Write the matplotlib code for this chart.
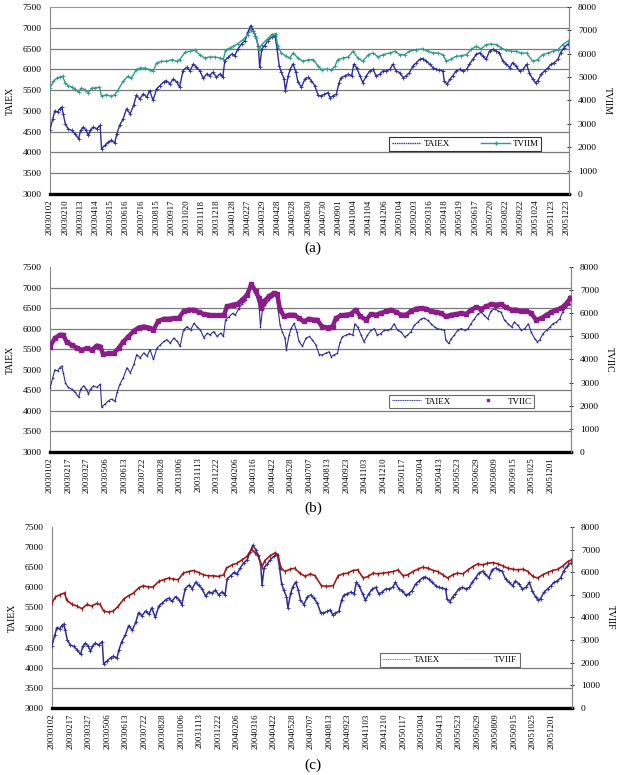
import matplotlib
matplotlib.use("Agg")
import matplotlib.pyplot as plt
from matplotlib.lines import Line2D
import numpy as np

plt.rcParams['font.family'] = ['Liberation Serif', 'DejaVu Serif']

# -------- data (x = trading day since 2003/01/02) --------

taiex_day = [0, 4, 7, 11, 14, 17, 19, 22, 26, 31, 36, 41, 44, 48, 52, 55, 58, 62, 67, 72,
             74, 79, 84, 88, 93, 96, 100, 105, 110, 115, 120, 124, 129, 134, 139, 143, 148, 153, 158, 163,
             167, 172, 177, 182, 186, 191, 196, 201, 206, 210, 215, 220, 225, 229, 234, 239, 244, 248, 251, 256,
             261, 265, 270, 275, 280, 284, 288, 292, 295, 299, 301, 304, 308, 313, 318, 323, 326, 329, 332, 336,
             338, 342, 345, 349, 353, 356, 361, 366, 371, 375, 380, 385, 389, 394, 399, 402, 406, 411, 415, 418,
             423, 428, 433, 436, 440, 445, 449, 454, 459, 464, 468, 473, 478, 483, 488, 492, 497, 502, 507, 511,
             516, 521, 526, 531, 535, 540, 545, 550, 554, 559, 564, 566, 570, 574, 578, 583, 588, 593, 598, 602,
             607, 612, 617, 621, 626, 631, 636, 640, 645, 650, 655, 660, 664, 669, 674, 679, 684, 688, 693, 697,
             700, 705, 710, 715, 719, 724, 729, 733, 738, 743]
taiex = [4550, 4810, 5000, 4970, 5050, 5090, 4930, 4690, 4570, 4530, 4450, 4330, 4530, 4610, 4530, 4410, 4530, 4610, 4570, 4650,
         4090, 4170, 4250, 4290, 4230, 4450, 4650, 4810, 5050, 4930, 5130, 5370, 5290, 5410, 5330, 5490, 5250, 5530, 5610, 5690,
         5730, 5650, 5770, 5690, 5570, 5970, 6050, 5970, 6130, 6050, 5970, 5780, 5890, 5850, 5930, 5810, 5890, 5810, 6210, 6290,
         6370, 6330, 6490, 6610, 6690, 6890, 7050, 6930, 6810, 6570, 6050, 6490, 6570, 6690, 6770, 6810, 6490, 6090, 5930, 5770,
         5490, 5850, 6010, 6130, 5930, 5690, 5570, 5770, 5810, 5730, 5610, 5370, 5360, 5400, 5440, 5320, 5360, 5400, 5680, 5800,
         5840, 5880, 5840, 6120, 6040, 5840, 5680, 5840, 5960, 6000, 5840, 5880, 5960, 5960, 6000, 6120, 5960, 5920, 5800, 5840,
         5920, 6080, 6160, 6240, 6260, 6200, 6120, 6040, 6000, 5980, 5960, 5720, 5640, 5760, 5840, 5960, 6000, 5960, 6000, 6120,
         6240, 6360, 6400, 6320, 6240, 6440, 6480, 6440, 6400, 6200, 6120, 6040, 6160, 6080, 5960, 6000, 6120, 5920, 5760, 5680,
         5720, 5880, 5960, 6040, 6120, 6160, 6240, 6400, 6520, 6600]

tviim_day = [0, 5, 10, 14, 18, 22, 26, 31, 36, 41, 45, 50, 55, 60, 65, 71, 74, 81, 88, 93,
             98, 105, 112, 117, 124, 129, 136, 143, 148, 153, 160, 167, 175, 182, 186, 194, 201, 208, 215, 222,
             229, 237, 244, 249, 252, 258, 263, 270, 277, 284, 288, 293, 296, 300, 304, 311, 318, 324, 327, 332,
             339, 344, 349, 356, 363, 371, 378, 385, 390, 397, 404, 409, 413, 421, 428, 435, 442, 449, 457, 464,
             471, 478, 488, 495, 502, 509, 516, 526, 535, 543, 550, 557, 564, 569, 576, 583, 590, 598, 605, 612,
             619, 626, 633, 641, 648, 655, 662, 669, 676, 684, 693, 700, 707, 715, 722, 729, 736, 743]
tviim = [4535, 4820, 4962, 5005, 5034, 4749, 4635, 4577, 4492, 4349, 4535, 4463, 4321, 4535, 4535, 4577, 4178, 4249, 4178, 4249,
         4463, 4820, 5034, 4962, 5319, 5390, 5390, 5319, 5248, 5604, 5675, 5675, 5747, 5675, 5747, 6061, 6103, 6146, 5961, 5818,
         5861, 5861, 5818, 5775, 6146, 6246, 6317, 6431, 6602, 6816, 7030, 6888, 6674, 6175, 6389, 6602, 6816, 6859, 6317, 6032,
         5889, 5818, 6032, 5818, 5675, 5747, 5747, 5462, 5319, 5348, 5319, 5462, 5747, 5818, 5861, 6103, 5818, 5675, 5961, 6032,
         5861, 5961, 6032, 6103, 5961, 5961, 6103, 6175, 6203, 6103, 6032, 6032, 5961, 5675, 5775, 5889, 5918, 5961, 6203, 6317,
         6203, 6389, 6417, 6389, 6246, 6146, 6103, 6103, 6032, 6032, 5675, 5747, 5961, 6032, 6103, 6175, 6389, 6531]

tviic_day = [0, 7, 14, 19, 24, 31, 38, 45, 53, 60, 67, 72, 76, 84, 91, 98, 105, 112, 120, 127,
             134, 141, 148, 155, 163, 170, 177, 184, 191, 198, 206, 213, 220, 227, 234, 241, 249, 253, 261, 268,
             275, 282, 288, 294, 299, 302, 306, 313, 320, 325, 329, 335, 342, 349, 356, 363, 370, 378, 382, 389,
             397, 404, 409, 416, 423, 430, 437, 444, 452, 459, 466, 473, 480, 487, 495, 502, 509, 516, 523, 531,
             538, 545, 552, 559, 566, 574, 581, 588, 595, 602, 609, 617, 624, 631, 638, 645, 652, 660, 667, 674,
             681, 688, 695, 703, 710, 717, 724, 731, 739, 744]
tviic = [4558, 4920, 5065, 5065, 4746, 4630, 4515, 4413, 4486, 4413, 4601, 4558, 4225, 4269, 4269, 4486, 4775, 4992, 5238, 5383,
         5426, 5383, 5282, 5672, 5759, 5759, 5788, 5788, 6077, 6150, 6150, 6048, 5962, 5933, 5904, 5904, 5933, 6294, 6367, 6396,
         6584, 6801, 7264, 6946, 6656, 6222, 6512, 6729, 6873, 6830, 6150, 5860, 5933, 5933, 5788, 5643, 5759, 5715, 5715, 5426,
         5383, 5426, 5788, 5904, 5933, 5962, 6150, 5860, 5715, 5962, 5933, 6005, 6077, 6150, 6048, 5933, 5933, 6077, 6193, 6222,
         6193, 6077, 6048, 6005, 5860, 5933, 5962, 6005, 5962, 6150, 6251, 6193, 6294, 6396, 6367, 6396, 6251, 6150, 6150, 6077,
         6106, 6005, 5715, 5788, 5933, 6048, 6150, 6222, 6439, 6656]

tviif_day = [0, 5, 12, 18, 21, 29, 36, 43, 50, 57, 64, 69, 74, 81, 88, 95, 103, 110, 117, 124,
             131, 138, 145, 153, 160, 167, 174, 181, 188, 196, 203, 210, 217, 224, 231, 239, 246, 250, 258, 265,
             272, 279, 286, 291, 296, 301, 305, 312, 320, 324, 328, 334, 341, 348, 355, 363, 370, 377, 386, 393,
             403, 410, 417, 424, 431, 438, 446, 453, 460, 467, 474, 481, 489, 496, 503, 510, 517, 524, 531, 539,
             546, 553, 560, 567, 574, 581, 589, 596, 603, 610, 617, 624, 632, 639, 646, 653, 660, 667, 675, 682,
             689, 696, 703, 710, 717, 725, 732, 739, 744]
tviif = [4648, 4910, 5012, 5085, 4764, 4575, 4502, 4386, 4575, 4502, 4619, 4575, 4284, 4240, 4284, 4502, 4823, 4968, 5085, 5303,
         5405, 5347, 5347, 5595, 5668, 5741, 5697, 5668, 5959, 6032, 6076, 5988, 5886, 5843, 5843, 5813, 5886, 6178, 6323, 6396,
         6542, 6688, 7008, 6862, 6688, 6251, 6513, 6717, 6862, 6760, 6178, 6032, 6134, 6178, 5959, 5813, 5930, 5843, 5405, 5376,
         5405, 5843, 5930, 5959, 6076, 6105, 5741, 5813, 5959, 5930, 5959, 5988, 6032, 6105, 5843, 5886, 6032, 6134, 6221, 6178,
         6076, 6032, 5886, 5741, 5886, 5959, 5930, 6105, 6251, 6367, 6323, 6396, 6425, 6367, 6280, 6178, 6134, 6105, 6134, 6032,
         5813, 5741, 5886, 5988, 6076, 6134, 6280, 6469, 6542]

ticks_a = ["20030102", "20030210", "20030313", "20030414", "20030515", "20030616", "20030716",
           "20030815", "20030917", "20031020", "20031118", "20031218", "20040128", "20040227",
           "20040329", "20040428", "20040528", "20040630", "20040730", "20040901", "20041004",
           "20041104", "20041206", "20050104", "20050203", "20050316", "20050418", "20050519",
           "20050617", "20050720", "20050822", "20050922", "20051024", "20051123", "20051223"]
ticks_bc = ["20030102", "20030217", "20030327", "20030506", "20030613", "20030722", "20030828",
            "20031006", "20031113", "20031222", "20040206", "20040316", "20040422", "20040528",
            "20040707", "20040813", "20040923", "20041103", "20041210", "20050117", "20050304",
            "20050413", "20050523", "20050629", "20050809", "20050915", "20051025", "20051201"]

NAVY = "#2e2e96"
GRID = "#7a7a7a"


def setup_panel(rect, ticks, tick_step, grid_levels, top_line, tvii_name):
    ax = fig.add_axes(rect)
    ax.set_xlim(0, 745)
    ax.set_ylim(3000, 7500)
    ax.set_yticks(np.arange(3000, 7501, 500))
    ax.set_xticks(np.arange(len(ticks)) * tick_step)
    ax.set_xticklabels(ticks, rotation=90, fontsize=6.3)
    ax.tick_params(axis='x', length=0, pad=4)
    ax.tick_params(axis='y', length=0, pad=6, labelsize=6.8)
    for g in grid_levels:
        ax.axhline(g, color=GRID, lw=0.9, zorder=0)
    ax.spines['left'].set_color("#888888")
    ax.spines['right'].set_color("#888888")
    ax.spines['bottom'].set_linewidth(2.4)
    ax.spines['bottom'].set_color("black")
    if top_line:
        ax.spines['top'].set_color("#999999")
        ax.spines['top'].set_linewidth(0.8)
    else:
        ax.spines['top'].set_visible(False)
    ax.set_ylabel("TAIEX", fontsize=7)
    ax.yaxis.set_label_coords(-0.068, 0.5)

    ax2 = ax.twinx()
    ax2.set_ylim(0, 8000)
    ax2.set_yticks(np.arange(0, 8001, 1000))
    ax2.tick_params(axis='y', length=3, direction='inout', width=0.6, pad=5, labelsize=6.8)
    ax2.spines['right'].set_color("#888888")
    ax2.spines['left'].set_visible(False)
    ax2.spines['bottom'].set_visible(False)
    ax2.spines['top'].set_visible(False)
    ax2.set_ylabel(tvii_name, fontsize=7, rotation=270)
    ax2.yaxis.set_label_coords(1.082, 0.5)
    return ax, ax2


fig = plt.figure(figsize=(6.27, 7.75), dpi=100)
full_grid = [3500, 4000, 4500, 5500, 6000, 6500, 7000]

# ---- (a) TVIIM ----
ax, ax2 = setup_panel([0.0797, 0.7497, 0.8278, 0.2413], ticks_a, 21.8, full_grid, True, "TVIIM")
ax.plot(taiex_day, taiex, color=NAVY, lw=1.0, marker='+', ms=3, mew=0.6, zorder=3)
ax2.plot(tviim_day, tviim, color="#329a8c", lw=1.0, marker='+', ms=3, mew=0.6, zorder=3)
h = [Line2D([], [], color=NAVY, lw=1.0, ls=(0, (1, 0.6))),
     Line2D([], [], color="#329a8c", lw=1.0, marker='+', ms=3)]
leg = ax2.legend(h, ["TAIEX", "TVIIM"], ncol=2, loc='center', bbox_to_anchor=(0.80, 0.267),
                 fontsize=6.5, frameon=True, fancybox=False, handlelength=3.2, columnspacing=3.5,
                 borderpad=0.3, handletextpad=0.3)
leg.get_frame().set_edgecolor("black")
leg.get_frame().set_linewidth(0.8)
fig.text(0.499, 0.68, "(a)", ha='center', va='center', fontsize=11)

# ---- (b) TVIIC ----
ax, ax2 = setup_panel([0.0797, 0.4168, 0.8310, 0.2387], ticks_bc, 26.5, full_grid, False, "TVIIC")
ax.plot(taiex_day, taiex, color=NAVY, lw=0.8, marker='+', ms=2, mew=0.5, zorder=3)
ax2.plot(tviic_day, tviic, color="#8c1c88", lw=3.2, marker='s', ms=2.5, zorder=3)
h = [Line2D([], [], color=NAVY, lw=0.8, ls=(0, (1, 0.6))),
     Line2D([], [], color="#8c1c88", lw=0, marker='s', ms=2)]
leg = ax2.legend(h, ["TAIEX", "TVIIC"], ncol=2, loc='center', bbox_to_anchor=(0.79, 0.273),
                 fontsize=6.5, frameon=True, fancybox=False, handlelength=3.2, columnspacing=2.5,
                 borderpad=0.3, handletextpad=0.5)
leg.get_frame().set_edgecolor("#444444")
leg.get_frame().set_linewidth(0.8)
fig.text(0.499, 0.3445, "(b)", ha='center', va='center', fontsize=11)

# ---- (c) TVIIF ----
ax, ax2 = setup_panel([0.0829, 0.0865, 0.8293, 0.2335], ticks_bc, 26.5, [3500, 4000], False, "TVIIF")
ax.plot(taiex_day, taiex, color=NAVY, lw=1.1, marker='+', ms=3, mew=0.6, zorder=3)
ax2.plot(tviif_day, tviif, color="#a01818", lw=1.2, marker='|', ms=2.5, mew=0.8, zorder=3)
h = [Line2D([], [], color="#8080c0", lw=0.8, ls=(0, (1, 0.6))),
     Line2D([], [], color="#eeeeee", lw=0.6)]
leg = ax2.legend(h, ["TAIEX", "TVIIF"], ncol=2, loc='center', bbox_to_anchor=(0.765, 0.265),
                 fontsize=6.5, frameon=True, fancybox=False, handlelength=3.2, columnspacing=2.5,
                 borderpad=0.3, handletextpad=0.3)
leg.get_frame().set_edgecolor("#444444")
leg.get_frame().set_linewidth(0.8)
fig.text(0.499, 0.013, "(c)", ha='center', va='center', fontsize=11)

fig.savefig("out.png", dpi=100)
